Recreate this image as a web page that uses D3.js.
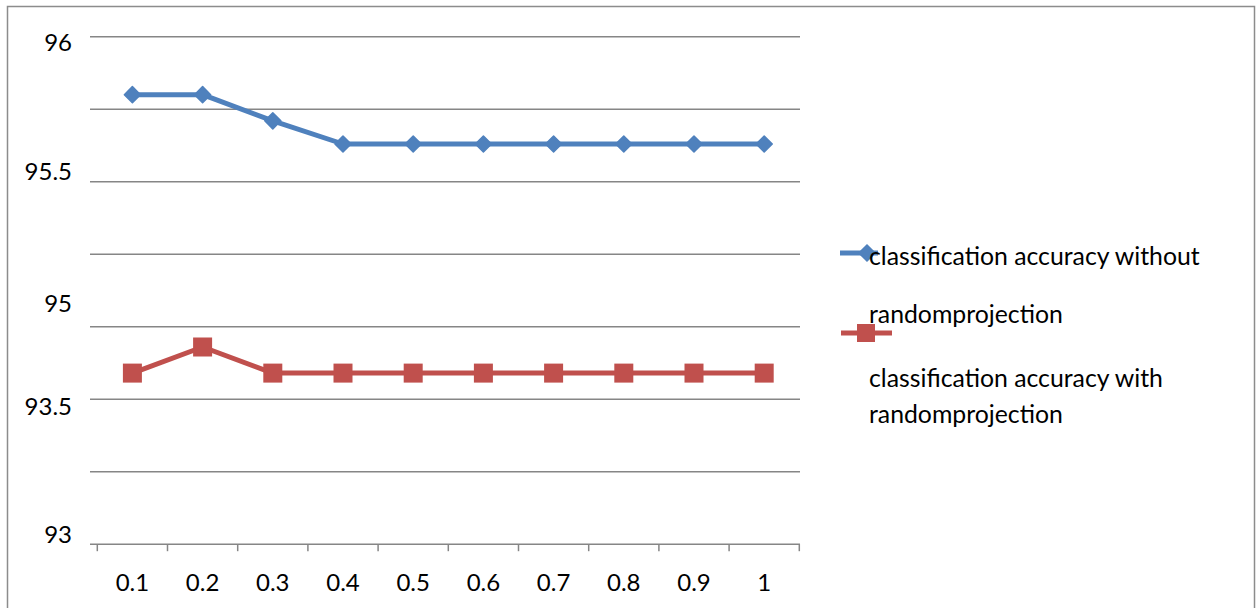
<!DOCTYPE html>
<html>
<head>
<meta charset="utf-8">
<script src="https://cdn.jsdelivr.net/npm/d3@7"></script>
<style>
  html, body { margin: 0; padding: 0; background: #fff; }
  svg { display: block; font-family: "Lato", "Liberation Sans", sans-serif; }
</style>
</head>
<body>
<svg id="chart" width="1258" height="608"></svg>
<script>
// ---- data ----
const categories = ["0.1", "0.2", "0.3", "0.4", "0.5", "0.6", "0.7", "0.8", "0.9", "1"];
const withoutRP = [95.80, 95.80, 95.71, 95.63, 95.63, 95.63, 95.63, 95.63, 95.63, 95.63];
const withRP    = [94.84, 94.93, 94.84, 94.84, 94.84, 94.84, 94.84, 94.84, 94.84, 94.84];
const seriesNames = ["classification accuracy without randomprojection", "classification accuracy with randomprojection"];
const gridValues = [96, 95.75, 95.5, 95.25, 95, 94.75, 94.5, 94.25];
const yTickLabels = ["96", "95.5", "95", "93.5", "93"];
const yTickLabelAt = [95.983, 95.538, 95.085, 94.73, 94.2875];

// ---- layout ----
const svg = d3.select("#chart");
const plot = { left: 90, right: 800, top: 36.7, bottom: 544.2 };
const colors = ["#4F81BD", "#C0504D"];
const FS = 24;
const LFS = 24.8;

// frame
svg.append("rect").attr("x", 7.5).attr("y", 6.5).attr("width", 1247).attr("height", 620)
  .attr("fill", "none").attr("stroke", "#8c8c8c").attr("stroke-width", 1.5);

const x = d3.scaleBand().domain(categories).range([97.3, 799.3]);
const y = d3.scaleLinear().domain([94.25, 96]).range([plot.bottom, plot.top]);

// gridlines
svg.append("g").selectAll("line").data(gridValues.slice(0, -1)).join("line")
  .attr("x1", plot.left).attr("x2", plot.right)
  .attr("y1", d => y(d)).attr("y2", d => y(d))
  .attr("stroke", "#868686").attr("stroke-width", 1.5);

// x axis
const xAxis = svg.append("g").attr("transform", `translate(0,${y(94.25)})`);
xAxis.append("line").attr("x1", plot.left).attr("x2", plot.right)
  .attr("stroke", "#868686").attr("stroke-width", 1.5);
const tickXs = categories.map(c => x(c)).concat([x(categories[categories.length - 1]) + x.bandwidth()]);
xAxis.selectAll("line.tick").data(tickXs).join("line").attr("class", "tick")
  .attr("x1", d => d).attr("x2", d => d).attr("y1", 0).attr("y2", 7)
  .attr("stroke", "#868686").attr("stroke-width", 1.5);
xAxis.selectAll("text").data(categories).join("text")
  .attr("x", d => x(d) + x.bandwidth() / 2).attr("y", 37.5)
  .attr("text-anchor", "middle").attr("dominant-baseline", "central")
  .attr("font-size", FS).attr("fill", "#000").text(d => d);

// y labels
svg.append("g").selectAll("text").data(yTickLabels).join("text")
  .attr("x", 72).attr("y", (d, i) => y(yTickLabelAt[i]))
  .attr("text-anchor", "end").attr("dominant-baseline", "central")
  .attr("font-size", FS).attr("fill", "#000").text(d => d);

// lines
const cx = c => x(c) + x.bandwidth() / 2;
const line = d3.line().x((d, i) => cx(categories[i])).y(d => y(d));
[withoutRP, withRP].forEach((s, k) => {
  svg.append("path").datum(s).attr("d", line).attr("fill", "none")
    .attr("stroke", colors[k]).attr("stroke-width", 5).attr("stroke-linejoin", "round");
});
// markers
const diamondPath = d3.symbol().type(d3.symbolSquare2).size(165)();
svg.append("g").selectAll("path").data(withoutRP).join("path")
  .attr("transform", (d, i) => `translate(${cx(categories[i])},${y(d)}) rotate(45)`)
  .attr("d", diamondPath)
  .attr("fill", colors[0]).attr("stroke", colors[0]).attr("stroke-width", 1.5).attr("stroke-linejoin", "round");
svg.append("g").selectAll("rect").data(withRP).join("rect")
  .attr("x", (d, i) => cx(categories[i]) - 9.5).attr("y", d => y(d) - 9.5)
  .attr("width", 19).attr("height", 19).attr("fill", colors[1]);

// legend
const legend = svg.append("g");
const lg = [
  { ly: 253, lines: [["classification accuracy without", 255], ["randomprojection", 313]], x1: 840, x2: 878, mx: 867 },
  { ly: 333, lines: [["classification accuracy with", 377], ["randomprojection", 413]], x1: 841, x2: 892, mx: 866 }
];
lg.forEach((g, k) => {
  legend.append("line").attr("x1", g.x1).attr("x2", g.x2).attr("y1", g.ly).attr("y2", g.ly)
    .attr("stroke", colors[k]).attr("stroke-width", 5);
  if (k === 0) {
    legend.append("path").attr("transform", `translate(${g.mx},${g.ly}) rotate(45)`)
      .attr("d", diamondPath)
      .attr("fill", colors[0]).attr("stroke", colors[0]).attr("stroke-width", 1.5);
  } else {
    legend.append("rect").attr("x", g.mx - 9).attr("y", g.ly - 9).attr("width", 18).attr("height", 18)
      .attr("fill", colors[1]);
  }
  g.lines.forEach(([t, ty]) => {
    legend.append("text").attr("x", 869).attr("y", ty).attr("dominant-baseline", "central")
      .attr("font-size", LFS).attr("fill", "#000").text(t);
  });
});
</script>
</body>
</html>
